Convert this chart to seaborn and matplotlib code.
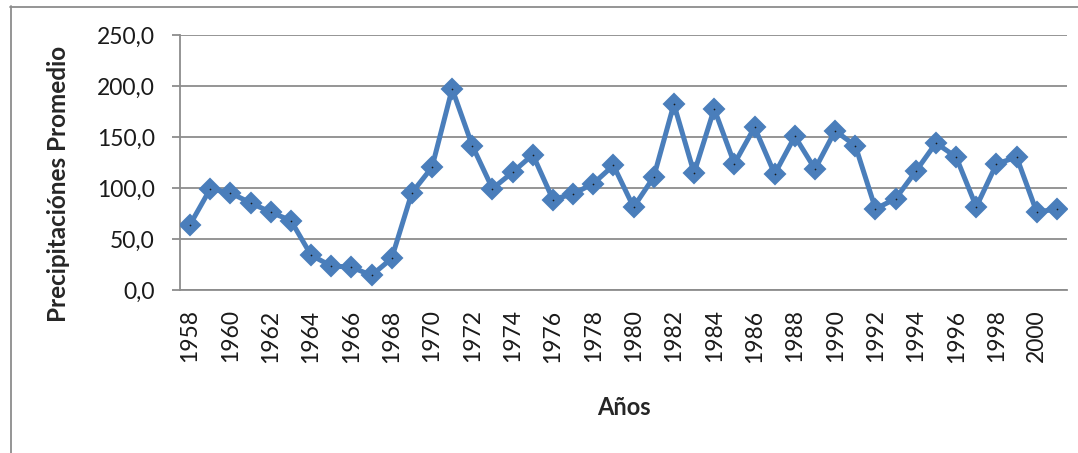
import matplotlib
matplotlib.use("Agg")
import matplotlib.pyplot as plt
from matplotlib.lines import Line2D
import seaborn as sns
import pandas as pd

# Annual mean precipitation, 1958-2001
years = list(range(1958, 2002))
precip = [64.2, 99.1, 95.2, 85.4, 76.3, 68.1, 34.2, 23.5, 22.5, 14.3,
          31.0, 95.2, 120.3, 197.2, 141.5, 99.4, 115.4, 132.7, 88.7, 94.2,
          104.3, 122.2, 81.2, 110.8, 182.2, 114.7, 177.6, 123.9, 159.5, 113.8,
          150.6, 118.6, 156.1, 141.5, 79.5, 89.6, 116.4, 144.1, 130.4, 81.5,
          123.5, 130.4, 76.3, 79.5]
y_ticks = [0, 50, 100, 150, 200, 250]
y_tick_labels = ["0,0", "50,0", "100,0", "150,0", "200,0", "250,0"]
x_label_years = list(range(1958, 2001, 2))

sns.set_style("white")
plt.rcParams["font.family"] = ["Lato", "DejaVu Sans"]

W, H = 1078, 453
fig = plt.figure(figsize=(W / 100, H / 100), dpi=100)
ax = fig.add_axes([180 / W, 1 - 290 / H, (1067 - 180) / W, (290 - 35) / H])

df = pd.DataFrame({"idx": range(len(years)), "year": years, "precip": precip})
blue = "#4A7EBB"
grid = "#8C8C8C"

sns.lineplot(data=df, x="idx", y="precip", ax=ax, color=blue, linewidth=3.6,
             marker="D", markersize=10.5, markeredgewidth=1.5,
             markeredgecolor=blue, markerfacecolor=blue, zorder=3)
sns.scatterplot(data=df, x="idx", y="precip", ax=ax, color="#1a1a1a",
                s=1.5, linewidth=0, zorder=4)

ax.set_xlim(-0.5, len(years) - 0.5)
ax.set_ylim(0, 250)
ax.set_yticks(y_ticks)
ax.set_yticklabels(y_tick_labels, fontsize=16.5, color="#1a1a1a")
ax.set_xticks([years.index(y) for y in x_label_years])
ax.set_xticklabels([str(y) for y in x_label_years], rotation=90,
                   fontsize=16.5, color="#1a1a1a")

ax.yaxis.grid(True, color=grid, linewidth=1.3)
ax.set_axisbelow(True)
for side in ("top", "right"):
    ax.spines[side].set_visible(False)
for side in ("left", "bottom"):
    ax.spines[side].set_color(grid)
    ax.spines[side].set_linewidth(1.3)
ax.tick_params(axis="y", length=6, width=1.3, color=grid, pad=12, left=True)
ax.tick_params(axis="x", length=0, pad=14)

ax.set_xlabel("Años", fontsize=17, fontweight="bold", labelpad=24)
ax.set_ylabel("Precipitaciónes Promedio", fontsize=17.5, fontweight="bold")
ax.yaxis.set_label_coords(-0.124, 0.415)

# outer chart frame
fig.add_artist(Line2D([10.5 / W, 10.5 / W], [0, 1 - 6 / H],
                      transform=fig.transFigure, color=grid, linewidth=1.3))
fig.add_artist(Line2D([10 / W, 1], [1 - 6.5 / H, 1 - 6.5 / H],
                      transform=fig.transFigure, color=grid, linewidth=1.3))

fig.savefig("out.png", dpi=100)
